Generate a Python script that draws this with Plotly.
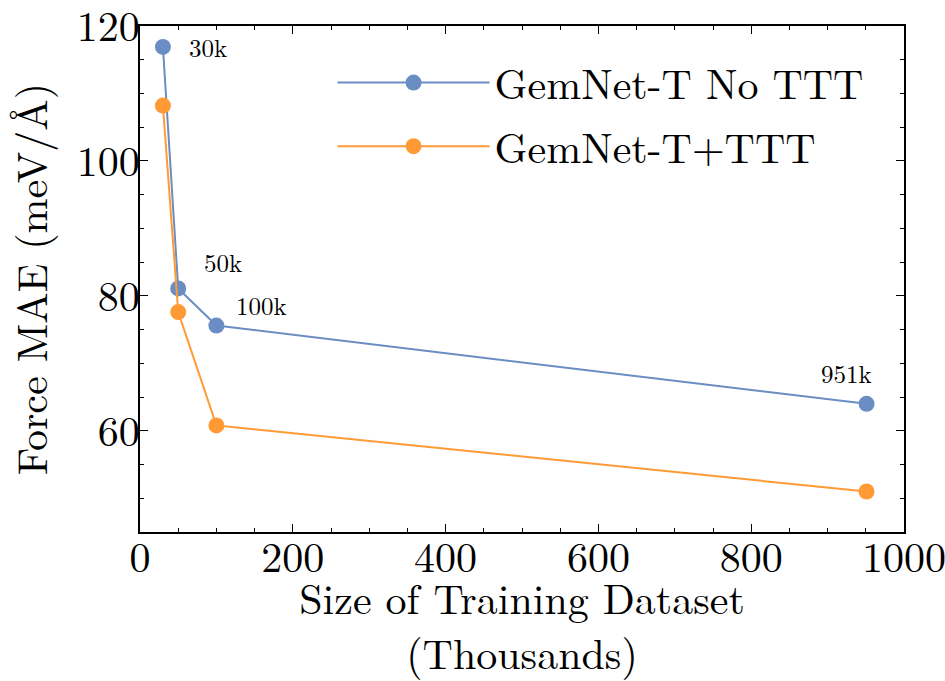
import plotly.graph_objects as go

sizes = [30, 50, 100, 951]
labels = ["30k", "50k", "100k", "951k"]
no_ttt = [116.9, 81.1, 75.6, 64.0]
with_ttt = [108.2, 77.6, 60.8, 51.0]

blue = "#6A8DC3"
orange = "#FF9A35"
font_family = "Latin Modern Roman"

fig = go.Figure()
fig.add_trace(go.Scatter(x=sizes, y=no_ttt, mode="lines+markers", name="GemNet-T No TTT",
                         legendgroup="a",
                         line=dict(color=blue, width=2), marker=dict(size=16, color=blue)))
fig.add_trace(go.Scatter(x=sizes, y=with_ttt, mode="lines+markers", name="GemNet-T+TTT",
                         legendgroup="b",
                         line=dict(color=orange, width=2), marker=dict(size=16, color=orange)))

offsets = [(45, 0), (45, -27), (45, -21), (-20, -31)]
for x, y, t, (dx, dy) in zip(sizes, no_ttt, labels, offsets):
    fig.add_annotation(x=x, y=y, text=t, showarrow=False, xshift=dx, yshift=-dy,
                       font=dict(size=25, color="black", family=font_family))

axis_common = dict(showline=True, linecolor="black", linewidth=1.5, mirror="ticks",
                   ticks="inside", ticklen=8, tickwidth=1.2, tickcolor="black",
                   showgrid=False, zeroline=False, automargin=False,
                   ticklabeloverflow="allow",
                   tickfont=dict(size=42, family=font_family, color="black"))

fig.update_xaxes(range=[0, 1000], dtick=200, tick0=0, ticklabelstandoff=-12,
                 minor=dict(ticks="inside", dtick=50, ticklen=4, tickcolor="black", tickwidth=1),
                 title=dict(text="Size of Training Dataset<br>(Thousands)",
                            font=dict(size=42, family=font_family, color="black"), standoff=10),
                 **axis_common)
fig.update_yaxes(range=[45, 120], dtick=20, tick0=0, ticklabelstandoff=-10,
                 minor=dict(ticks="inside", dtick=5, ticklen=4, tickcolor="black", tickwidth=1),
                 title=dict(text="Force MAE (meV/Å)",
                            font=dict(size=42, family=font_family, color="black"), standoff=18),
                 **axis_common)

fig.update_layout(
    width=945, height=681,
    margin=dict(l=140, r=41, t=26, b=149),
    plot_bgcolor="white", paper_bgcolor="white",
    font=dict(family=font_family, color="black"),
    legend=dict(x=0.252, y=0.955, xanchor="left", yanchor="top",
                font=dict(size=42, family=font_family, color="black"),
                bgcolor="rgba(0,0,0,0)", tracegroupgap=6, itemwidth=152),
)

fig.write_html("out.html")
